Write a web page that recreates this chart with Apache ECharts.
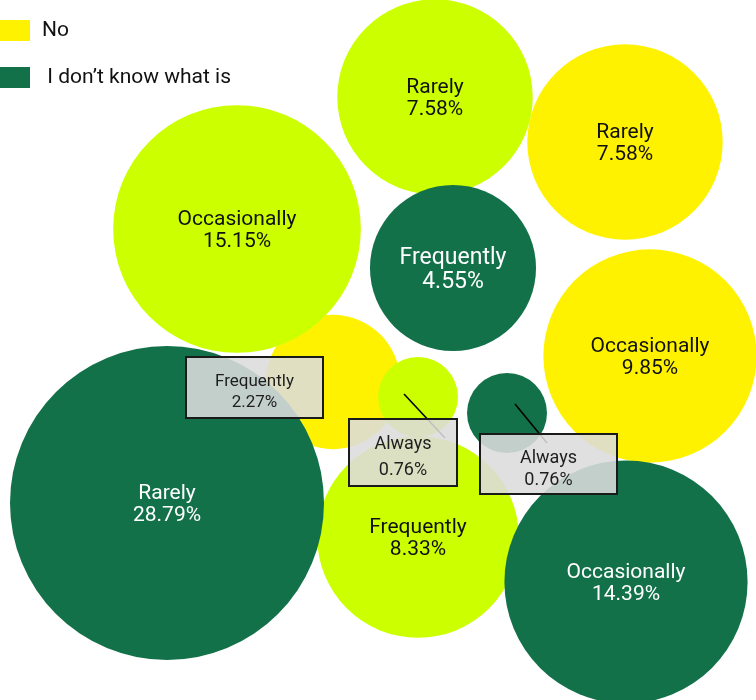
<!DOCTYPE html>
<html>
<head>
<meta charset="utf-8">
<script src="https://cdn.jsdelivr.net/npm/echarts@6/dist/echarts.min.js"></script>
<style>
  html, body { margin: 0; padding: 0; background: #ffffff; }
  #chart { width: 756px; height: 700px; }
</style>
</head>
<body>
<div id="chart"></div>
<script>
// Share of respondents (%) per answer group and frequency
const yesName = 'Yes';
const yesCategories = ['Rarely', 'Occasionally', 'Always', 'Frequently'];
const yesValues = [7.58, 15.15, 0.76, 8.33];

const noName = 'No';
const noCategories = ['Rarely', 'Occasionally', 'Frequently'];
const noValues = [7.58, 9.85, 2.27];

const dkName = ' I don’t know what is';
const dkCategories = ['Frequently', 'Rarely', 'Always', 'Occasionally'];
const dkValues = [4.55, 28.79, 0.76, 14.39];

// Packed placement of each bubble centre (plot units), same order as the values
const yesLayout = [[435, 97], [237, 229], [418, 397], [418, 537]];
const noLayout = [[625, 142], [650, 356], [333, 382]];
const dkLayout = [[453, 268], [167, 503], [507, 413], [626, 582]];

// Label styling per bubble; "box" entries are drawn as callouts beside the bubble
const yesLabels = [
  { size: 21 }, { size: 21 },
  { box: { dx: -69, dy: 22, w: 108, h: 67, size: 18, lh: 26, line: [-14, -3, 27, 41] } },
  { size: 21 }
];
const noLabels = [
  { size: 21 }, { size: 21 },
  { box: { dx: -147, dy: -25, w: 137, h: 61, size: 17, lh: 21, line: null } }
];
const dkLabels = [
  { size: 23 }, { size: 21 },
  { box: { dx: -27, dy: 21, w: 137, h: 60, size: 18, lh: 22, line: [8, -9, 40, 30] } },
  { size: 21 }
];

const COLORS = { yes: '#ccff00', no: '#fff200', dk: '#13714a' };
const FONT = 'Roboto, "Noto Sans", sans-serif';
const MIN_R = 40, MAX_R = 157;

const allValues = yesValues.concat(noValues, dkValues);
const vMin = Math.min.apply(null, allValues);
const vMax = Math.max.apply(null, allValues);

// Bubble radius grows with the square root of the value (area-proportional)
function radiusOf(v) {
  return MIN_R + (MAX_R - MIN_R) * Math.sqrt((v - vMin) / (vMax - vMin));
}

function makeSeries(name, categories, values, layout, labels, color, textColor) {
  return {
    name: name,
    type: 'custom',
    coordinateSystem: 'cartesian2d',
    itemStyle: { color: color },
    clip: false,
    data: values.map(function (v, i) {
      return { name: categories[i], value: [layout[i][0], layout[i][1], v] };
    }),
    renderItem: function (params, api) {
      const i = params.dataIndex;
      const p = api.coord([api.value(0), api.value(1)]);
      const v = api.value(2);
      const r = radiusOf(v);
      const text = categories[i] + '\n' + v.toFixed(2) + '%';
      const lab = labels[i];
      const children = [{
        type: 'circle',
        shape: { cx: p[0], cy: p[1], r: r },
        style: { fill: color },
        z2: 0
      }];
      if (lab.box) {
        const b = lab.box;
        if (b.line) {
          children.push({
            type: 'line',
            shape: { x1: p[0] + b.line[0], y1: p[1] + b.line[1], x2: p[0] + b.line[2], y2: p[1] + b.line[3] },
            style: { stroke: '#000000', lineWidth: 1.6 },
            z2: 20
          });
        }
        children.push({
          type: 'rect',
          shape: { x: p[0] + b.dx, y: p[1] + b.dy, width: b.w, height: b.h },
          style: { fill: 'rgba(220,220,220,0.88)', stroke: '#1a1a1a', lineWidth: 2 },
          z2: 21
        });
        children.push({
          type: 'text',
          style: {
            text: text,
            x: p[0] + b.dx + b.w / 2,
            y: p[1] + b.dy + b.h / 2 + 5,
            align: 'center',
            verticalAlign: 'middle',
            fill: '#1e1e1e',
            fontSize: b.size,
            fontFamily: FONT,
            lineHeight: b.lh
          },
          z2: 22
        });
      } else {
        children.push({
          type: 'text',
          style: {
            text: text,
            x: p[0],
            y: p[1] + 2,
            align: 'center',
            verticalAlign: 'middle',
            fill: textColor,
            fontSize: lab.size,
            fontFamily: FONT,
            lineHeight: lab.size + 1
          },
          z2: 5
        });
      }
      return { type: 'group', children: children };
    }
  };
}

const chart = echarts.init(document.getElementById('chart'), null, { renderer: 'canvas' });
chart.setOption({
  animation: false,
  backgroundColor: '#ffffff',
  grid: { left: 0, right: 0, top: 0, bottom: 0 },
  xAxis: { type: 'value', min: 0, max: 756, show: false },
  yAxis: { type: 'value', min: 0, max: 700, inverse: true, show: false },
  legend: {
    data: [noName, dkName],
    orient: 'vertical',
    left: 0,
    top: 20,
    padding: 0,
    icon: 'rect',
    itemWidth: 30,
    itemHeight: 21,
    itemGap: 26,
    selectedMode: false,
    textStyle: { fontSize: 21, color: '#111111', fontFamily: FONT, padding: [0, 0, 0, 7] }
  },
  series: [
    makeSeries(noName, noCategories, noValues, noLayout, noLabels, COLORS.no, '#111111'),
    makeSeries(yesName, yesCategories, yesValues, yesLayout, yesLabels, COLORS.yes, '#111111'),
    makeSeries(dkName, dkCategories, dkValues, dkLayout, dkLabels, COLORS.dk, '#ffffff')
  ]
});
</script>
</body>
</html>
